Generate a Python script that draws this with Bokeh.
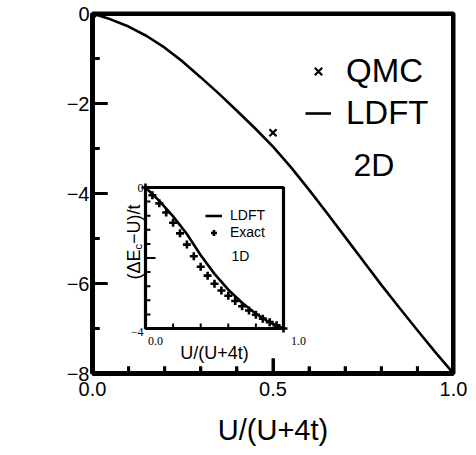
import numpy as np
from bokeh.plotting import figure
from bokeh.models import Range1d, FixedTicker, Label, Legend, LegendItem
from bokeh.core.properties import value
from bokeh.embed import file_html
from bokeh.resources import INLINE

# ---------------- main panel (2D) ----------------
ldft2d_x = [0.00, 0.05, 0.10, 0.15, 0.20, 0.25, 0.30, 0.35, 0.40, 0.45, 0.50,
            0.55, 0.60, 0.65, 0.70, 0.75, 0.80, 0.85, 0.90, 0.95, 1.00]
ldft2d_y = [0.00, -0.13, -0.29, -0.50, -0.76, -1.07, -1.42, -1.78, -2.16, -2.55, -2.96,
            -3.42, -3.92, -4.44, -4.97, -5.50, -6.03, -6.54, -7.04, -7.53, -8.00]
qmc_x = [0.0, 0.5, 1.0]
qmc_y = [0.0, -2.65, -8.0]

x_range = [0.0, 1.0]
y_range = [-8.0, 0.0]
x_ticks = [0.0, 0.5, 1.0]
x_tick_labels = ["0.0", "0.5", "1.0"]
x_minor = [0.1, 0.2, 0.3, 0.4, 0.6, 0.7, 0.8, 0.9]
y_ticks = [-8, -6, -4, -2, 0]
y_tick_labels = ["\u22128", "\u22126", "\u22124", "\u22122", "0"]
y_minor = [-7, -5, -3, -1]

# ---------------- inset (1D) ----------------
exact1d_x = [0.00, 0.05, 0.10, 0.15, 0.20, 0.25, 0.30, 0.35, 0.40, 0.45, 0.50,
             0.55, 0.60, 0.65, 0.70, 0.75, 0.80, 0.85, 0.90, 0.95, 1.00]
exact1d_y = [0.00, -0.22, -0.45, -0.71, -1.00, -1.30, -1.62, -1.95, -2.25, -2.50, -2.73,
             -2.92, -3.07, -3.22, -3.37, -3.49, -3.61, -3.72, -3.82, -3.91, -4.00]
ldft1d_x = [0.00, 0.10, 0.20, 0.30, 0.40, 0.50, 0.60, 0.70, 0.80, 0.90, 1.00]
ldft1d_y = [0.00, -0.38, -0.82, -1.32, -1.92, -2.45, -2.90, -3.27, -3.58, -3.83, -4.00]

inset_x_range = [0.0, 1.0]
inset_y_range = [-4.0, 0.0]
inset_x_minor = [0.2, 0.4, 0.6, 0.8]
inset_y_minor = [-0.4, -0.8, -1.2, -1.6, -2.4, -2.8, -3.2, -3.6]
inset_y_major = [-2.0]
inset_x_label_ticks = [0.0, 1.0]
inset_x_label_text = ["0.0", "1.0"]
inset_y_label_ticks = [0.0, -4.0]
inset_y_label_text = ["0", "\u22124"]

SANS = "Liberation Sans"
SERIF = "Liberation Serif"
INK = "#000000"

W, H = 476, 455
L, R, T, B = 92, 23, 13, 82
FW, FH = W - L - R, H - T - B

p = figure(width=W, height=H, x_range=Range1d(*x_range), y_range=Range1d(*y_range),
           output_backend="svg", toolbar_location=None,
           min_border_left=L, min_border_right=R, min_border_top=T, min_border_bottom=B)
p.xgrid.visible = False
p.ygrid.visible = False
p.outline_line_color = INK
p.outline_line_width = 4
p.outline_line_alpha = 1.0

for ax in (p.xaxis[0], p.yaxis[0]):
    ax.axis_line_width = 5
    ax.axis_line_color = INK
    ax.major_tick_line_color = INK
    ax.minor_tick_line_color = INK
    ax.major_tick_line_width = 3
    ax.minor_tick_line_width = 3
    ax.major_tick_out = 0
    ax.minor_tick_out = 0
    ax.major_tick_in = 15
    ax.minor_tick_in = 7
    ax.major_label_text_font = SANS
    ax.major_label_text_font_size = "20px"
    ax.major_label_text_color = INK

p.xaxis.ticker = FixedTicker(ticks=x_ticks, minor_ticks=x_minor)
p.xaxis.major_label_overrides = dict(zip(x_ticks, x_tick_labels))
p.xaxis.major_label_standoff = 8
p.xaxis.axis_label = "U/(U+4t)"
p.xaxis.axis_label_text_font = SANS
p.xaxis.axis_label_text_font_size = "29px"
p.xaxis.axis_label_text_font_style = "normal"
p.xaxis.axis_label_text_color = INK
p.xaxis.axis_label_standoff = 15

p.yaxis.ticker = FixedTicker(ticks=y_ticks, minor_ticks=y_minor)
p.yaxis.major_label_overrides = dict(zip(y_ticks, y_tick_labels))
p.yaxis.major_label_standoff = 3

# reinforce the frame and the inward ticks with glyphs
x0, x1 = x_range
y0, y1 = y_range
p.quad(left=[x0], right=[x1], bottom=[y0], top=[y1], fill_color=None,
       line_color=INK, line_width=5)
y_major_inner = [t for t in y_ticks if y0 < t < y1]
x_major_inner = [t for t in x_ticks if x0 < t < x1]
p.ray(x=[x0] * len(y_major_inner), y=y_major_inner, length=15, angle=0,
      length_units="screen", line_width=3, color=INK)
p.ray(x=[x0] * len(y_minor), y=y_minor, length=7, angle=0,
      length_units="screen", line_width=3, color=INK)
p.ray(x=x_major_inner, y=[y0] * len(x_major_inner), length=15, angle=np.pi / 2,
      length_units="screen", line_width=3, color=INK)
p.ray(x=x_minor, y=[y0] * len(x_minor), length=7, angle=np.pi / 2,
      length_units="screen", line_width=3, color=INK)


def px2d(sx, sy):
    """screen pixel -> main data coords (for placing text only)"""
    return (sx - L) / FW, -8 * (sy - T) / FH


def rotated_label(sx, sy, size, sub_size, sub_shift):
    # "(ΔE" + subscript c + "−U)/t", rotated 90°, reading upward
    w1 = size * (0.333 + 0.668 + 0.667)
    wc = sub_size * 0.5
    parts = [("(\u0394E", sx, sy, size),
             ("c", sx + sub_shift, sy - w1, sub_size),
             ("\u2212U)/t", sx, sy - w1 - wc, size)]
    for txt, x, y, s in parts:
        dx, dy = px2d(x, y)
        p.add_layout(Label(x=dx, y=dy, text=txt, angle=90, angle_units="deg",
                           text_font=SANS, text_font_size=f"{s}px", text_color=INK,
                           text_align="left", text_baseline="alphabetic"))


rotated_label(43, 246, 30, 18, 6)

main_line = p.line(ldft2d_x, ldft2d_y, line_width=2.6, color=INK)
qmc_r = p.scatter(qmc_x, qmc_y, marker="x", size=10, line_width=2.2, color=INK)

leg = Legend(items=[LegendItem(label="QMC", renderers=[qmc_r]),
                    LegendItem(label="LDFT", renderers=[main_line])],
             location=(213, 241), label_text_font=SANS, label_text_font_size="33px",
             label_text_color=INK,
             glyph_width=26, glyph_height=32, label_height=32, label_standoff=15,
             spacing=4, padding=0, margin=0, border_line_color=None,
             background_fill_alpha=0)
p.add_layout(leg)

lx, ly = px2d(373.5, 164)
p.add_layout(Label(x=lx, y=ly, text="2D", text_font=SANS, text_font_size="32px",
                   text_align="center", text_baseline="middle", text_color=INK))

# ---------------- inset drawn in a sub-coordinate system ----------------
ix0, ix1 = inset_x_range
iy0, iy1 = inset_y_range
tx0, ty1 = px2d(145, 187)
tx1, ty0 = px2d(283, 328)
sub = p.subplot(x_source=Range1d(ix0, ix1), y_source=Range1d(iy0, iy1),
                x_target=Range1d(tx0, tx1), y_target=Range1d(ty0, ty1))

sub.quad(left=[ix0], right=[ix1], bottom=[iy0], top=[iy1], fill_color="white",
         line_color=INK, line_width=3.2)
sub.ray(x=[ix0] * len(inset_y_minor), y=inset_y_minor, length=5, angle=0,
        length_units="screen", line_width=2, color=INK)
sub.ray(x=[ix0] * len(inset_y_major), y=inset_y_major, length=10, angle=0,
        length_units="screen", line_width=2, color=INK)
sub.ray(x=inset_x_minor, y=[iy0] * len(inset_x_minor), length=5, angle=np.pi / 2,
        length_units="screen", line_width=2, color=INK)

l1d = sub.line(ldft1d_x, ldft1d_y, line_width=2.6, color=INK)
ex_r = sub.scatter(exact1d_x, exact1d_y, marker="cross", size=8, line_width=2.6, color=INK)

sub.text(x=inset_x_label_ticks, y=[iy0] * 2, text=inset_x_label_text,
         x_offset=[10, 15], y_offset=12, text_font=value(SERIF), text_font_size="12px",
         text_align="center", text_baseline="middle", text_color=INK)
sub.text(x=[ix0] * 2, y=inset_y_label_ticks, text=inset_y_label_text,
         x_offset=-2, y_offset=[0, 3], text_font=value(SERIF), text_font_size="12px",
         text_align="right", text_baseline="middle", text_color=INK)
sub.text(x=[(ix0 + ix1) / 2], y=[iy0], text=["U/(U+4t)"], y_offset=24,
         text_font=value(SANS), text_font_size="18px", text_align="center",
         text_baseline="middle", text_color=INK)
sub.text(x=[0.688], y=[-1.93], text=["1D"], text_font=value(SANS), text_font_size="14px",
         text_align="center", text_baseline="middle", text_color=INK)

rotated_label(133, 279, 18, 11, 4)

leg2 = Legend(items=[LegendItem(label="LDFT", renderers=[l1d]),
                     LegendItem(label="Exact", renderers=[ex_r])],
              location=(113, 133), label_text_font=SANS, label_text_font_size="14px",
              label_text_color=INK,
              glyph_width=17, glyph_height=15, label_height=15, label_standoff=8,
              spacing=1, padding=0, margin=0, border_line_color=None,
              background_fill_alpha=0)
p.add_layout(leg2)

open("out.html", "w").write(file_html(p, INLINE))
